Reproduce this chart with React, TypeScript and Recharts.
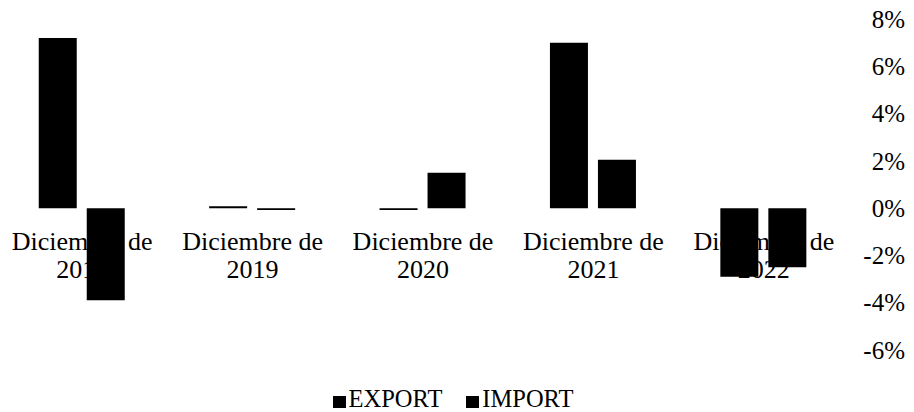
import React from "react";
import { BarChart, Bar, XAxis, YAxis, Legend } from "recharts";

const CATEGORIES = [
  "Diciembre de 2018",
  "Diciembre de 2019",
  "Diciembre de 2020",
  "Diciembre de 2021",
  "Diciembre de 2022",
];
const EXPORT = [7.2, 0.08, -0.08, 7.0, -2.9];
const IMPORT = [-3.9, -0.08, 1.5, 2.05, -2.5];
const Y_TICKS = [-6, -4, -2, 0, 2, 4, 6, 8];

const SERIES = [
  { key: "EXPORT", color: "#000000" },
  { key: "IMPORT", color: "#000000" },
];

const FONT = "Liberation Serif, DejaVu Serif, serif";

// chart layout
const CHART_W = 917;
const CHART_H = 412;
const MARGIN_TOP = 19;
const X_AXIS_H = 30;
const PLOT_H = 331;
const Y_MIN = Y_TICKS[0];
const Y_MAX = Y_TICKS[Y_TICKS.length - 1];
// category labels sit just under the zero line, like Excel's "next to axis"
const ZERO_Y = MARGIN_TOP + (PLOT_H * Y_MAX) / (Y_MAX - Y_MIN);

const data = CATEGORIES.map((name, i) => ({
  name,
  EXPORT: EXPORT[i],
  IMPORT: IMPORT[i],
}));

const CategoryTick = (props: any) => {
  const { x, payload } = props;
  const label: string = payload.value;
  const cut = label.lastIndexOf(" ");
  return (
    <text x={x} y={ZERO_Y + 42} textAnchor="middle" style={{ fontFamily: FONT }} fontSize={26} fill="#000">
      <tspan x={x}>{label.slice(0, cut)}</tspan>
      <tspan x={x} dy={28}>
        {label.slice(cut + 1)}
      </tspan>
    </text>
  );
};

const PercentTick = (props: any) => {
  const { y, payload } = props;
  return (
    <text x={CHART_W - 9} y={y} dy="0.35em" textAnchor="end" style={{ fontFamily: FONT }} fontSize={25} fill="#000">
      {`${payload.value}%`}
    </text>
  );
};

const LegendContent = () => (
  <div
    style={{
      display: "flex",
      justifyContent: "center",
      gap: 24,
      fontFamily: FONT,
      fontSize: 24.5,
      lineHeight: "24px",
      color: "#000",
      paddingRight: 5,
    }}
  >
    {SERIES.map((s) => (
      <span key={s.key} style={{ display: "flex", alignItems: "flex-end" }}>
        <span
          style={{
            display: "inline-block",
            width: 13,
            height: 12,
            background: s.color,
            marginRight: 3,
            marginBottom: 3,
          }}
        />
        {s.key}
      </span>
    ))}
  </div>
);

export default function App() {
  return (
    <div style={{ position: "absolute", left: -3, top: 0 }}>
      <BarChart
        width={CHART_W}
        height={CHART_H}
        data={data}
        margin={{ top: MARGIN_TOP, right: 0, left: 0, bottom: CHART_H - MARGIN_TOP - PLOT_H - X_AXIS_H }}
        barCategoryGap="24.5%"
        barGap={10}
      >
        <XAxis
          dataKey="name"
          height={X_AXIS_H}
          axisLine={false}
          tickLine={false}
          interval={0}
          tick={<CategoryTick />}
          zIndex={0}
        />
        <YAxis
          orientation="right"
          width={65}
          domain={[Y_MIN, Y_MAX]}
          ticks={Y_TICKS}
          axisLine={false}
          tickLine={false}
          tick={<PercentTick />}
        />
        <Legend
          layout="horizontal"
          verticalAlign="middle"
          align="center"
          wrapperStyle={{ top: 387, left: 0, width: CHART_W }}
          content={<LegendContent />}
        />
        {SERIES.map((s) => (
          <Bar key={s.key} dataKey={s.key} fill={s.color} isAnimationActive={false} />
        ))}
      </BarChart>
    </div>
  );
}
